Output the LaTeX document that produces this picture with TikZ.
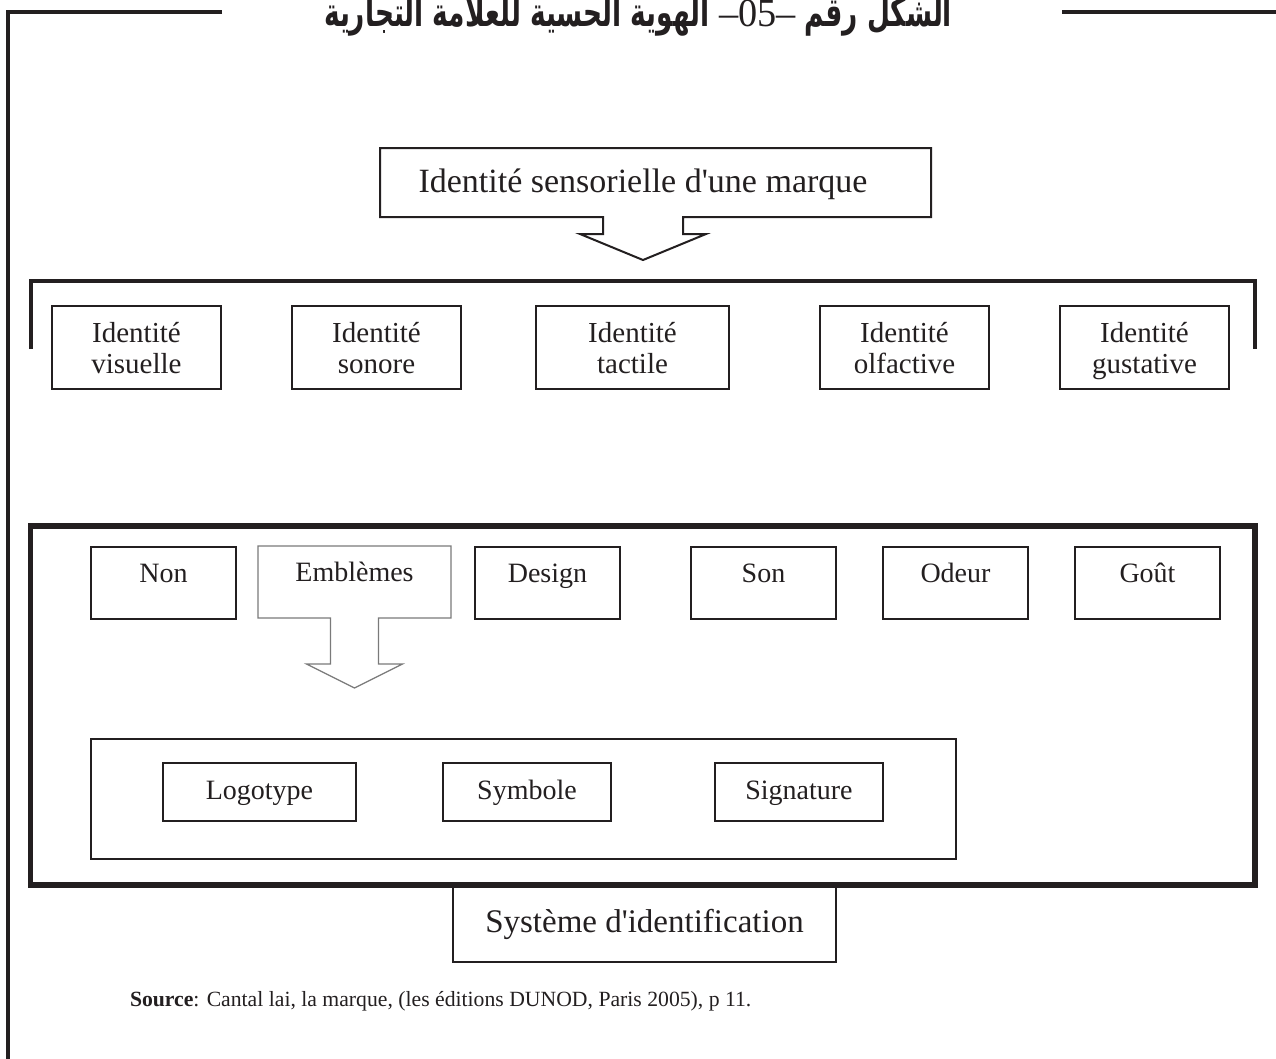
\documentclass[tikz,border=0pt]{standalone}
\usepackage{fontspec}
% plain serif family: no TeX ligature mapping, so ' stays a straight quote
\newfontfamily\lat{Liberation Serif}
\newfontfamily\latwide[FakeStretch=1.45]{Liberation Serif}
\setmainfont{Liberation Serif}
\newfontfamily\arabicfont[Script=Arabic]{DejaVu Sans}
\TeXXeTstate=1
\usetikzlibrary{calc}
\definecolor{ink}{HTML}{231F20}
\definecolor{soft}{HTML}{7A7A7A}
\begin{document}
\begin{tikzpicture}[x=1pt,y=-1pt,
  every node/.style={inner sep=0pt, outer sep=0pt, text=ink},
  sense/.style={draw=ink, line width=2pt, align=center,
    font=\lat\fontsize{29}{31}\selectfont, minimum width=169, minimum height=83,
    text height=51, text depth=0},
  item/.style={draw=ink, line width=2pt, font=\lat\fontsize{28}{30}\selectfont,
    minimum width=145, text height=35, text depth=37},
  part/.style={draw=ink, line width=2pt, font=\lat\fontsize{28}{30}\selectfont,
    minimum width=168, text height=36, text depth=22},
  heavy/.style={draw=ink, line width=4pt},
]
\useasboundingbox (0,0) rectangle (1276,1058);
\fill[white] (0,0) rectangle (1276,1058);

% title and page rules
\node[anchor=base, font=\arabicfont\bfseries\fontsize{40}{42}\selectfont] (title) at (638,26)
  {\scalebox{0.66}[1]{\beginR الشكل رقم {\latwide\mdseries\beginL –05–\endL} الهوية الحسية للعلامة التجارية\endR}};
\draw[heavy] (222,12) -- (8,12) -- (8,1070);
\draw[heavy] (1062,12) -- (1280,12);

% sensory identity callout
\draw[ink, line width=2pt] (380,148) -- (931,148) -- (931,217) -- (683,217) -- (683,234)
  -- (706,234) -- (643,260) -- (580,234) -- (603,234) -- (603,217) -- (380,217) -- cycle;
\node[anchor=base, font=\lat\fontsize{34}{36}\selectfont] (sens) at (643,192) {Identité sensorielle d'une marque};

% bracket over the five identities
\draw[heavy] (31,349) -- (31,281) -- (1255,281) -- (1255,349);
\node[sense] (vis) at (136.5,347.5) {Identité\\visuelle};
\node[sense] (son) at (376.5,347.5) {Identité\\sonore};
\node[sense, minimum width=193] (tac) at (632.5,347.5) {Identité\\tactile};
\node[sense] (olf) at (904.5,347.5) {Identité\\olfactive};
\node[sense] (gus) at (1144.5,347.5) {Identité\\gustative};

% identification system frame
\draw[ink, line width=5.5pt] (30.5,526) rectangle (1255,885);
\node[item] (non) at (163.5,583) {Non};
\node[item, draw=none, minimum width=193] (emb) at (354.5,582) {Emblèmes};
\draw[soft, line width=1.2pt] (emb.north west) -- (emb.north east) -- (emb.south east)
  -- ($(emb.south)+(24,0)$) -- ++(0,46) -- ++(24,0) -- ($(emb.south)+(0,70)$)
  -- ($(emb.south)+(-48,46)$) -- ++(24,0) -- ($(emb.south)+(-24,0)$) -- (emb.south west) -- cycle;
\node[item] (des) at (547.5,583) {Design};
\node[item] (snd) at (763.5,583) {Son};
\node[item] (ode) at (955.5,583) {Odeur};
\node[item] (gou) at (1147.5,583) {Goût};

\draw[ink, line width=2.5pt] (91,739) rectangle (956,859);
\node[part, minimum width=193] (logo) at (259.5,792) {Logotype};
\node[part] (sym) at (527,792) {Symbole};
\node[part] (sig) at (799,792) {Signature};

\node[draw=ink, line width=2.5pt, minimum width=383, font=\lat\fontsize{33}{35}\selectfont,
  text height=46, text depth=30] (sys) at (644.5,924) {Système d'identification};

% source line
\node[anchor=base west, font=\lat\fontsize{21.7}{24}\selectfont] (src) at (130,1006)
  {\textbf{Source}: Cantal lai, la marque, (les éditions DUNOD, Paris 2005), p 11.};
\end{tikzpicture}
\end{document}
